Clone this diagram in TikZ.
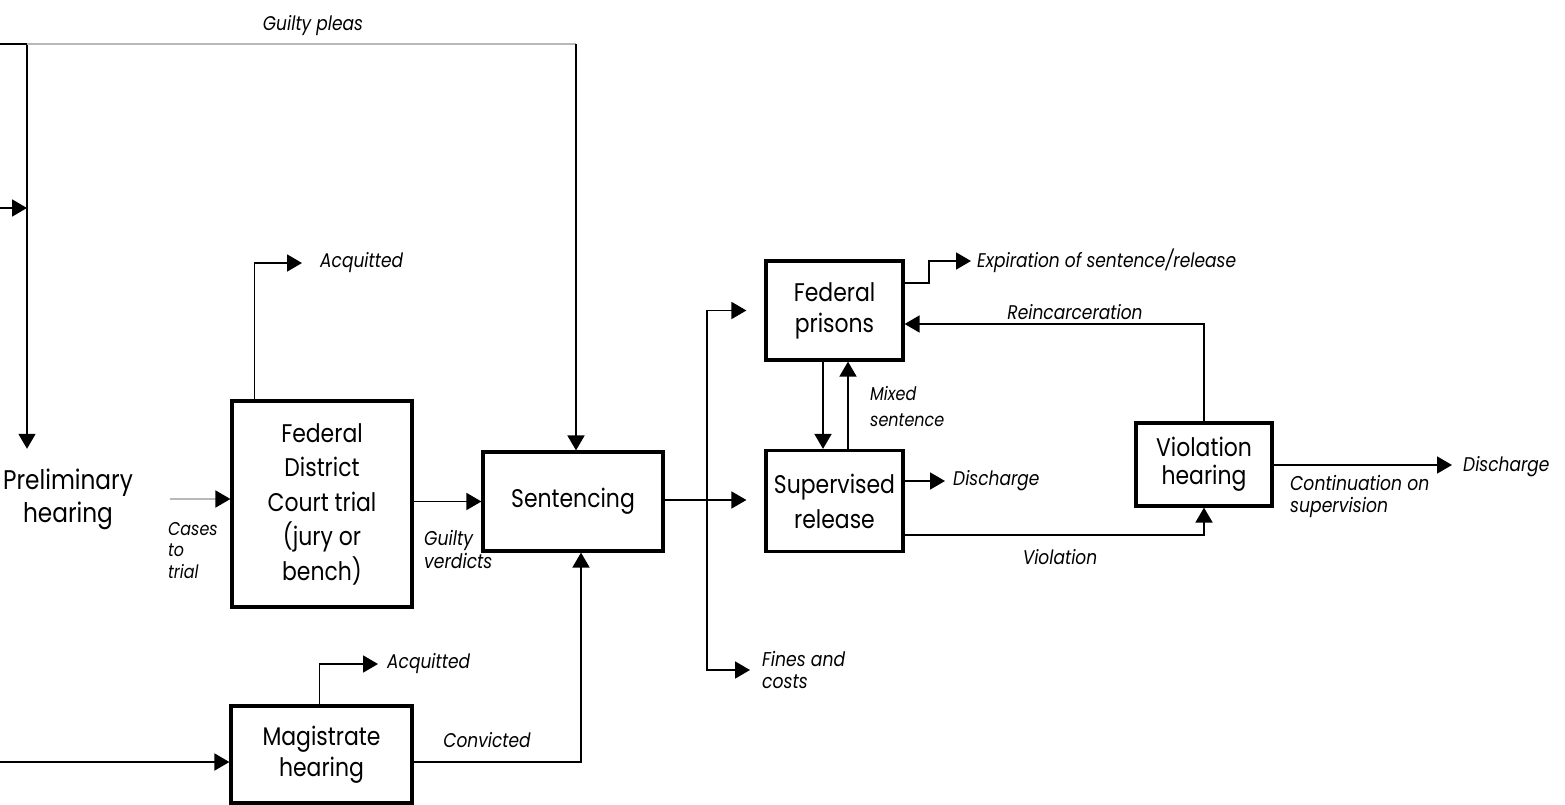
\documentclass[tikz,border=0pt]{standalone}
\usepackage{fontspec}
\setmainfont{Poppins}[FakeStretch=0.86]
\usetikzlibrary{arrows.meta}

\begin{document}
\begin{tikzpicture}[x=1pt,y=-1pt,
  box/.style={draw, line width=3.2pt, align=center, inner sep=0pt,
    font=\fontsize{25.5}{31}\selectfont},
  plain/.style={align=center, inner sep=0pt, font=\fontsize{27}{33}\selectfont},
  lbl/.style={align=left, inner sep=0pt, font=\itshape\fontsize{19.8}{22}\selectfont},
  wire/.style={line width=1.8pt},
  conn/.style={wire, -{Triangle[length=15pt,width=17pt]}},
  faint/.style={line width=1.4pt, draw=black!28}
]
\useasboundingbox (0,0) rectangle (1565,805);

% ---------- boxes ----------
\node[plain, minimum width=150pt, minimum height=100pt] (prelim) at (68,499)
  {Preliminary\\hearing};
\node[box, minimum width=180pt, minimum height=206pt,
  font=\fontsize{25.5}{34.5}\selectfont] (court) at (322,504)
  {Federal\\District\\Court trial\\(jury or\\bench)};
\node[box, minimum width=180pt, minimum height=99pt] (sent) at (573,501.5) {Sentencing};
\node[box, minimum width=181pt, minimum height=97pt] (mag) at (321.5,754.5)
  {Magistrate\\hearing};
\node[box, minimum width=137pt, minimum height=99pt] (prison) at (834.5,310.5)
  {Federal\\prisons};
\node[box, minimum width=137pt, minimum height=101pt,
  font=\fontsize{25.5}{35}\selectfont] (sup) at (834.5,501)
  {Supervised\\release};
\node[box, minimum width=136pt, minimum height=83pt,
  font=\fontsize{25.5}{28}\selectfont] (viol) at (1204,464.5)
  {Violation\\hearing};

% ---------- labels ----------
\node[lbl] (lgp) at (313,26) {Guilty pleas};
\node[lbl, anchor=west] (lacq1) at (320,263) {Acquitted};
\node[lbl, anchor=west] (lacq2) at (387,664) {Acquitted};
\node[lbl, anchor=north west, font=\itshape\fontsize{18.5}{21.5}\selectfont] (lcases) at (168,522) {Cases\\to\\trial};
\node[lbl, anchor=north west, font=\itshape\fontsize{20}{23}\selectfont] (lverd) at (424,530) {Guilty\\verdicts};
\node[lbl] (lconv) at (487,740) {Convicted};
\node[lbl, anchor=north west, font=\itshape\fontsize{20}{22}\selectfont] (lfines) at (762,651) {Fines and\\costs};
\node[lbl, anchor=north west, font=\itshape\fontsize{18.6}{26}\selectfont] (lmixed) at (870,386) {Mixed\\sentence};
\node[lbl, anchor=west] (lexp) at (977,261) {Expiration of sentence/release};
\node[lbl] (lreinc) at (1075,312) {Reincarceration};
\node[lbl, anchor=west] (ldis1) at (953,481) {Discharge};
\node[lbl] (lviolt) at (1060,557) {Violation};
\node[lbl, anchor=west] (ldis2) at (1463,467) {Discharge};
\node[lbl, anchor=north west, font=\itshape\fontsize{20}{22}\selectfont] (lcont) at (1290,475) {Continuation on\\supervision};

% ---------- junction points ----------
\coordinate (inA) at (0,44);
\coordinate (jA) at (27,44);
\coordinate (inB) at (0,208);
\coordinate (gp) at (576,44);
\coordinate (caseY) at (170,499);
\coordinate (acqA) at (302,263);
\coordinate (inC) at (0,762);
\coordinate (acqB) at (378,664);
\coordinate (cvX) at (581,0);
\coordinate (sj) at (707,500);
\coordinate (finesA) at (750,670);
\coordinate (expJ) at (929,283);
\coordinate (expA) at (971,261);
\coordinate (reY) at (0,324);
\coordinate (dis1Y) at (0,481);
\coordinate (dis1A) at (945,481);
\coordinate (vioY) at (0,535);
\coordinate (dis2A) at (1452,465);

% ---------- connectors ----------
\draw[wire] (inA) -- (jA);
\draw[conn] (jA) -- (jA |- prelim.north);
\draw[conn] (inB) -- (jA |- inB);
\draw[faint] (jA) -- (gp);
\draw[conn] (gp) -- (gp |- sent.north);

\draw[faint] (caseY) -- ([xshift=-12pt]court.west |- caseY);
\draw[wire, -{Triangle[length=15pt,width=17pt]}] ([xshift=-3pt]court.west |- caseY) -- (court.west |- caseY);

\draw[conn] ([xshift=24pt]court.north west) |- (acqA);
\draw[conn] (court.east |- sent.west) -- (sent.west);

\draw[conn] (inC) -- (inC -| mag.west);
\draw[conn] ([xshift=90pt]mag.north west) |- (acqB);
\draw[conn] (mag.east |- inC) -| (cvX |- sent.south);

\draw[wire] (sent.east |- sj) -- (sj);
\draw[conn, shorten >=18pt] (sj) |- (prison.west);
\draw[conn, shorten >=18pt] (sj) -- (sup.west |- sj);
\draw[conn] (sj) |- (finesA);

\draw[conn] ([xshift=-11.5pt]prison.south) -- ([xshift=-11.5pt]sup.north);
\draw[conn] ([xshift=13.5pt]sup.north) -- ([xshift=13.5pt]prison.south);

\draw[conn] (prison.east |- expJ) -- (expJ) |- (expA);
\draw[conn] (viol.north) |- (prison.east |- reY);

\draw[conn] (sup.east |- dis1Y) -- (dis1A);
\draw[conn] (sup.east |- vioY) -| (viol.south);
\draw[conn] (viol.east |- dis2A) -- (dis2A);
\end{tikzpicture}
\end{document}
